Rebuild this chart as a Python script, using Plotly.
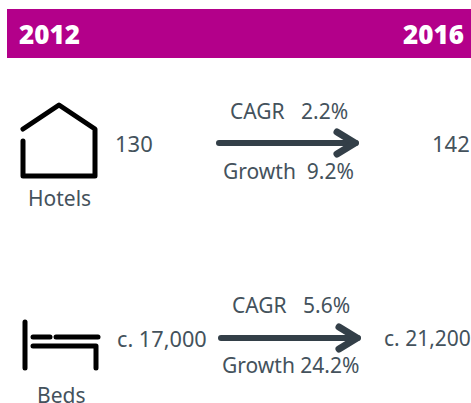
import plotly.graph_objects as go

years = ["2012", "2016"]
categories = ["Hotels", "Beds"]
start_values = ["130", "c. 17,000"]
end_values = ["142", "c. 21,200"]
cagr_labels = ["CAGR   2.2%", "CAGR   5.6%"]
growth_labels = ["Growth  9.2%", "Growth 24.2%"]

W, H = 471, 403
BAND = "#b3008a"
INK = "#44525c"
ARROW = "#333f48"
BODY = "Noto Sans"
HEAD = "Open Sans"
FS = 21

fig = go.Figure()
shapes = []
annos = []


def text(x, y, s, anchor="center", size=FS, color=INK, font=BODY, weight=400):
    annos.append(dict(x=x, y=y, text=s, showarrow=False,
                      xanchor=anchor, yanchor="middle", xref="x", yref="y",
                      font=dict(family=font, size=size, color=color, weight=weight),
                      borderpad=0, borderwidth=0))


def line(path, color="#000000", width=5):
    shapes.append(dict(type="path", path=path, xref="x", yref="y",
                       line=dict(color=color, width=width), layer="above"))


# header band
shapes.append(dict(type="rect", x0=7, x1=471, y0=9, y1=58, xref="x", yref="y",
                   fillcolor=BAND, line=dict(width=0), layer="below"))
text(19, 34, years[0], "left", 26, "#ffffff", HEAD, 800)
text(464, 34, years[1], "right", 26, "#ffffff", HEAD, 800)

# house icon
line("M 23 129 L 59 105 L 95 129 L 95 176 L 23 176 L 23 141")
# bed icon
line("M 25 322 L 25 368")
line("M 33 337 L 50 337")
line("M 56 337 L 98 337")
line("M 33 346 L 96 346 L 96 368")

# row text
text(59, 198, categories[0])
text(61, 395, categories[1])
text(134, 143, start_values[0], size=22)
text(470, 143, end_values[0], "right", size=22)
text(161.5, 338, start_values[1], size=21.7)
text(471, 338, end_values[1], "right", size=21)
text(288.5, 111, cagr_labels[0])
text(288, 171, growth_labels[0])
text(290.5, 305, cagr_labels[1])
text(290, 365, growth_labels[1])

# arrows
for x0, x1, y in [(216, 358, 143), (218, 360, 338)]:
    line(f"M {x0+3} {y} L {x1-2} {y}", ARROW, 6)
    line(f"M {x1-21} {y-11} L {x1-3} {y} L {x1-21} {y+11}", ARROW, 7)

fig.update_layout(
    width=W, height=H, margin=dict(l=0, r=0, t=0, b=0),
    paper_bgcolor="white", plot_bgcolor="white", showlegend=False,
    xaxis=dict(range=[0, W], visible=False, fixedrange=True),
    yaxis=dict(range=[H, 0], visible=False, fixedrange=True),
    shapes=shapes, annotations=annos,
)
post = """
document.body.style.margin = '0';
document.documentElement.style.overflow = 'hidden';
var s = document.createElement('style');
s.textContent = '.shapelayer path {stroke-linecap: round; stroke-linejoin: round;}';
document.head.appendChild(s);
"""
fig.write_html("out.html", config={"displayModeBar": False}, post_script=post)
